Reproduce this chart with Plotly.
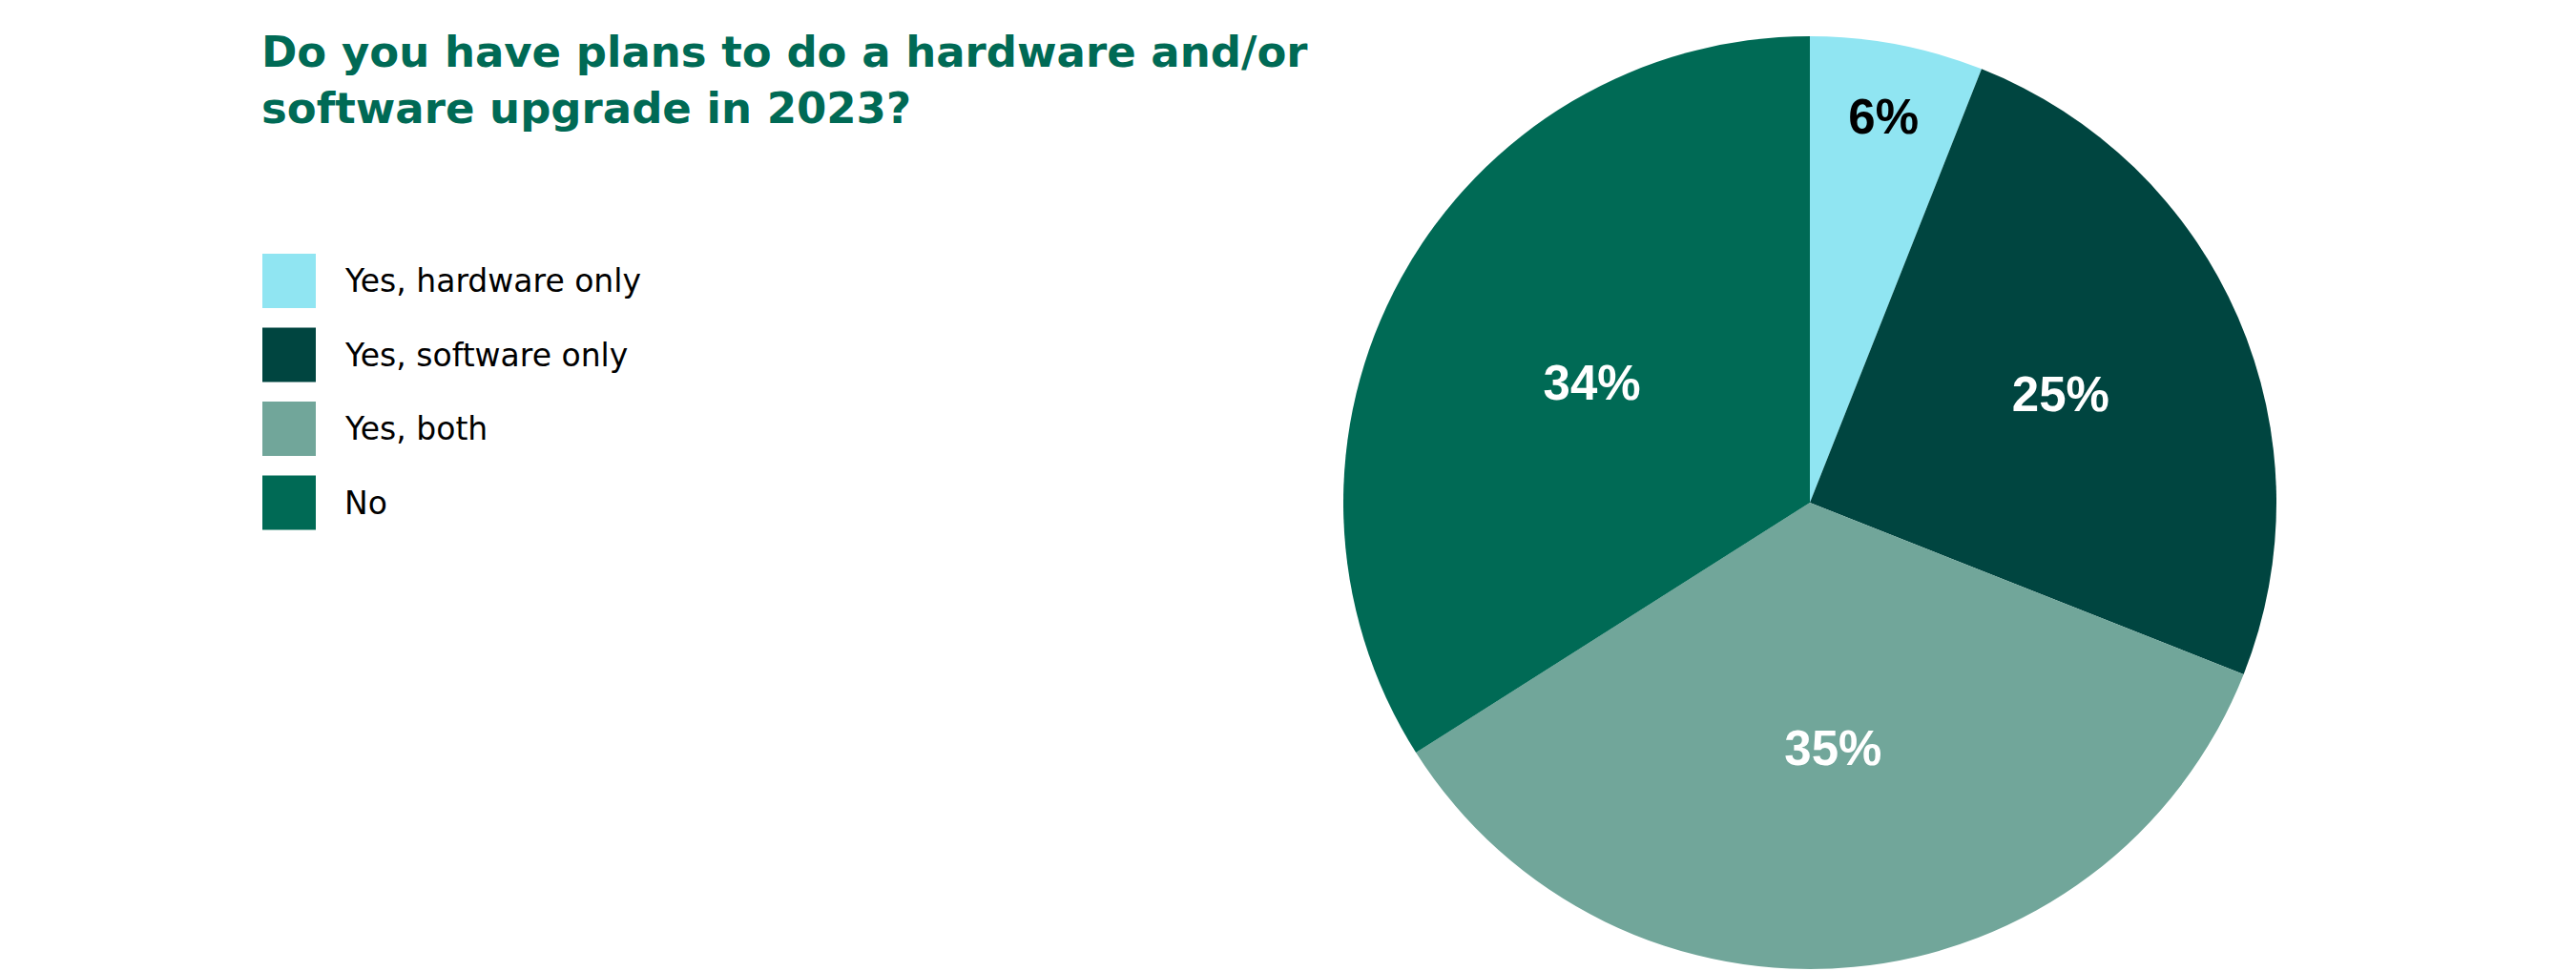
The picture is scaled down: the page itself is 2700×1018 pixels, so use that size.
import plotly.graph_objects as go

W, H = 2700, 1018
OFF = 8  # the page body adds an 8px margin, so pixel targets are shifted back by it

# data
categories = ["Yes, hardware only", "Yes, software only", "Yes, both", "No"]
shares = [6, 25, 35, 34]
colors = ["#90E5F2", "#004540", "#71A69A", "#006A55"]
label_colors = ["#000000", "#FFFFFF", "#FFFFFF", "#FFFFFF"]
title_text = "Do you have plans to do a hardware and/or<br>software upgrade in 2023?"


def px_x(x):
    return (x - OFF) / W


def px_y(y):
    return 1 - (y - OFF) / H


# pie geometry in page pixels
cx, cy, r = 1897, 527, 489

fig = go.Figure(go.Pie(
    labels=categories, values=shares, sort=False, direction="clockwise", rotation=0,
    marker=dict(colors=colors, line=dict(width=0)),
    texttemplate="%{value}%", textposition="inside", insidetextorientation="horizontal",
    textfont=dict(family="Liberation Sans", size=51, color=label_colors, weight="bold"),
    domain=dict(x=[px_x(cx - r), px_x(cx + r)], y=[px_y(cy + r), px_y(cy - r)]),
    showlegend=False, hoverinfo="label+percent",
))

# title
fig.add_annotation(
    text=title_text, xref="paper", yref="paper", x=px_x(272), y=px_y(26),
    xanchor="left", yanchor="top", align="left", showarrow=False,
    font=dict(family="DejaVu Sans", size=45, color="#006A55", weight="bold"),
)

# legend drawn by hand so the swatches can be large
top0, pitch, side = 266, 77.5, 57
for i, (name, col) in enumerate(zip(categories, colors)):
    y0 = top0 + i * pitch
    fig.add_shape(type="rect", xref="paper", yref="paper",
                  x0=px_x(275), x1=px_x(275 + 56), y0=px_y(y0 + side), y1=px_y(y0),
                  fillcolor=col, line=dict(width=0))
    fig.add_annotation(text=name, xref="paper", yref="paper",
                       x=px_x(359), y=px_y(y0 + side / 2), xanchor="left", yanchor="middle",
                       showarrow=False, font=dict(family="DejaVu Sans", size=33, color="#000000"))

fig.update_layout(width=W, height=H, margin=dict(l=0, r=0, t=0, b=0),
                  paper_bgcolor="white", plot_bgcolor="white")
fig.write_html("out.html")
